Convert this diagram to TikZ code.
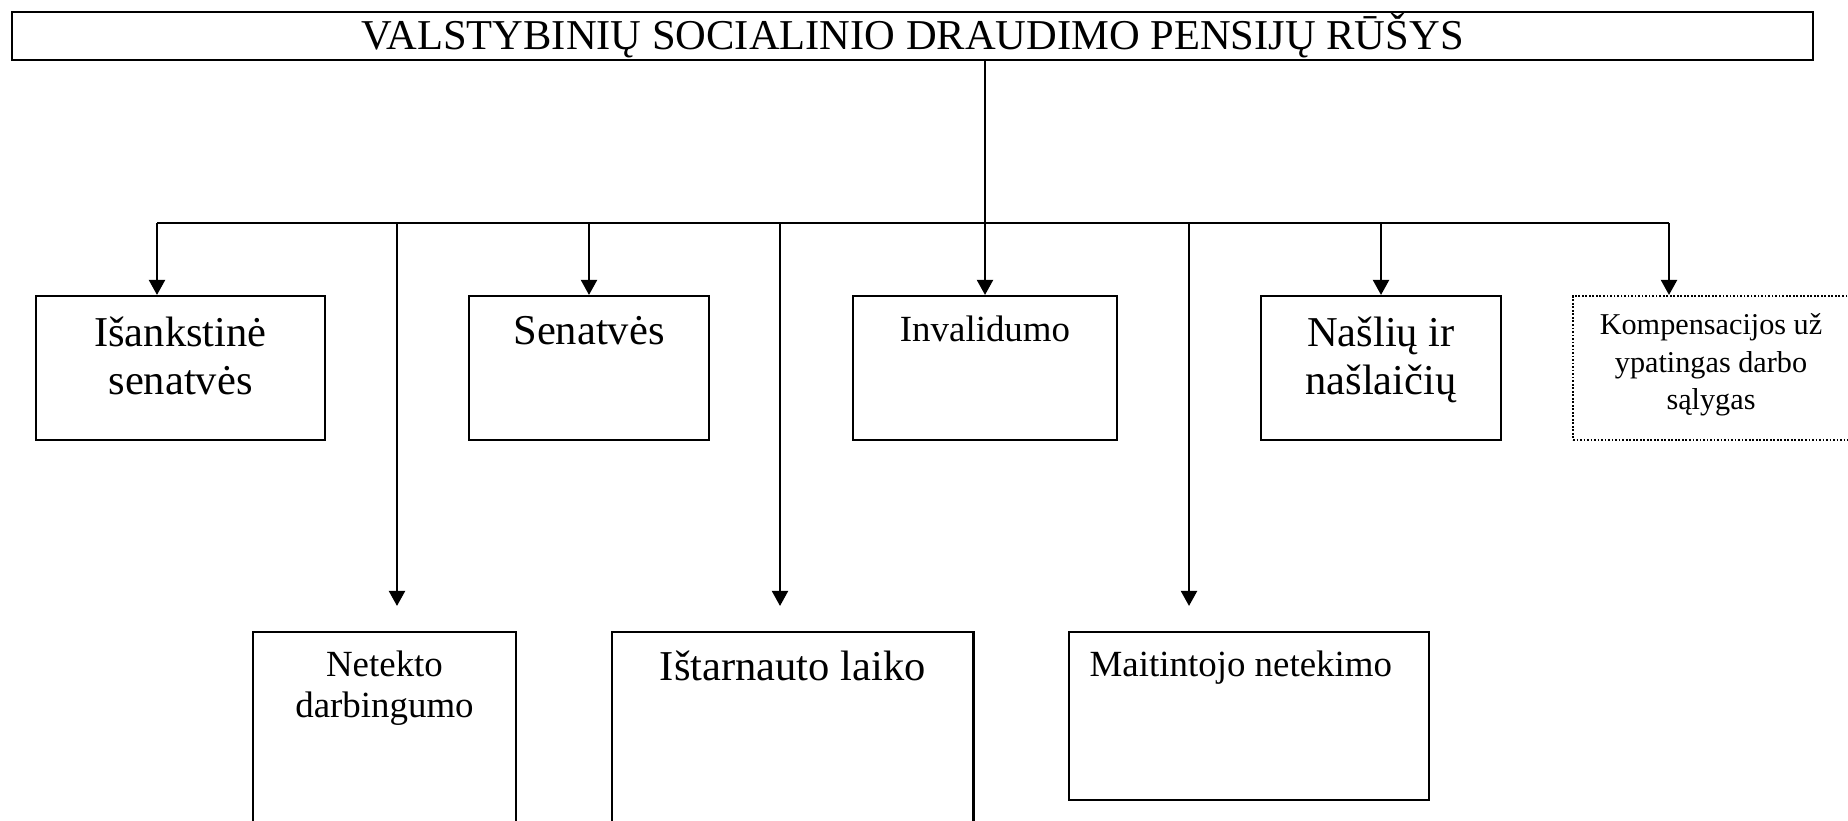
\documentclass[tikz,border=0pt]{standalone}
\usepackage{fontspec}
\setmainfont{Liberation Serif}
\usetikzlibrary{arrows.meta}

\begin{document}
\begin{tikzpicture}[
  box/.style={draw, line width=0.6pt, inner sep=0pt},
  arr/.style={-{Triangle[length=1.5mm, width=1.6mm]}, line width=0.6pt},
  big/.style={font=\fontsize{12.1}{13.8}\selectfont},
  mid/.style={font=\fontsize{10.5}{11.8}\selectfont},
  small/.style={font=\fontsize{8.6}{10.7}\selectfont}]
  \useasboundingbox (0,0) rectangle (18.48,-8.2);

  \node[box, big, minimum width=18.01cm, minimum height=0.48cm, text height=0.34cm, text depth=0.06cm]
    (title) at (9.125,-0.36) {VALSTYBINIŲ SOCIALINIO DRAUDIMO PENSIJŲ RŪŠYS};

  % upper row
  \node[box, minimum width=2.89cm, minimum height=1.44cm,
    label={[big, align=center, anchor=north, inner sep=0pt, yshift=-2.1mm]north:{Išankstinė\\senatvės}}]
    (isank) at (1.805,-3.68) {};
  \node[box, minimum width=2.405cm, minimum height=1.44cm,
    label={[big, anchor=north, inner sep=0pt, yshift=-2.1mm]north:{Senatvės}}]
    (senat) at (5.89,-3.68) {};
  \node[box, minimum width=2.64cm, minimum height=1.44cm,
    label={[mid, anchor=north, inner sep=0pt, yshift=-2.0mm]north:{Invalidumo}}]
    (inval) at (9.85,-3.68) {};
  \node[box, minimum width=2.405cm, minimum height=1.44cm,
    label={[big, align=center, anchor=north, inner sep=0pt, yshift=-2.1mm]north:{Našlių ir\\našlaičių}}]
    (naslu) at (13.81,-3.68) {};
  \node[box, dash pattern=on 0.5pt off 0.5pt, minimum width=2.76cm, minimum height=1.44cm,
    label={[small, align=center, anchor=north, inner sep=0pt, yshift=-1.8mm]north:{Kompensacijos už\\ypatingas darbo\\sąlygas}}]
    (komp) at (17.11,-3.68) {};

  % lower row
  \node[box, minimum width=2.63cm, minimum height=1.93cm,
    label={[mid, align=center, anchor=north, inner sep=0pt, yshift=-1.9mm]north:{Netekto\\darbingumo}}]
    (netek) at (3.845,-7.285) {};
  \node[box, minimum width=3.615cm, minimum height=1.93cm,
    label={[big, anchor=north, inner sep=0pt, yshift=-1.9mm]north:{Ištarnauto laiko}}]
    (istarn) at (7.9275,-7.285) {};
  \node[box, minimum width=3.6cm, minimum height=1.68cm,
    label={[mid, anchor=north west, inner sep=0pt, xshift=2.1mm, yshift=-1.9mm]north west:{Maitintojo netekimo}}]
    (maitin) at (12.49,-7.16) {};

  % bus and arrows
  \coordinate (busL) at (1.57,-2.23);
  \coordinate (busR) at (16.69,-2.23);
  \coordinate (b1) at (3.97,-2.23);
  \coordinate (b2) at (7.80,-2.23);
  \coordinate (b3) at (11.89,-2.23);
  \draw[line width=0.6pt] (busL) -- (busR);
  \draw[arr] (title.south -| inval.north) -- (inval.north);
  \draw[arr] (busL) -- (busL |- isank.north);
  \draw[arr] (senat.north |- busL) -- (senat.north);
  \draw[arr] (naslu.north |- busL) -- (naslu.north);
  \draw[arr] (busR) -- (busR |- komp.north);
  \draw[arr, shorten >=2.5mm] (b1) -- (b1 |- netek.north);
  \draw[arr, shorten >=2.5mm] (b2) -- (b2 |- istarn.north);
  \draw[arr, shorten >=2.5mm] (b3) -- (b3 |- maitin.north);
\end{tikzpicture}
\end{document}
